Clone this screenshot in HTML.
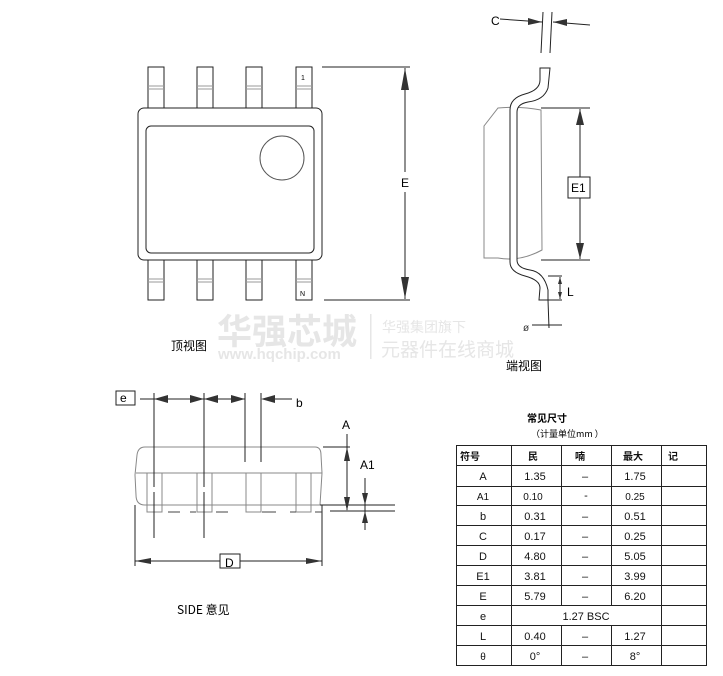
<!DOCTYPE html>
<html><head><meta charset="utf-8"><style>
body{margin:0;background:#fff;}
svg{display:block;font-family:"Liberation Sans","Noto Sans CJK SC",sans-serif;}
</style></head><body>
<svg width="723" height="676" viewBox="0 0 723 676" xmlns="http://www.w3.org/2000/svg">
<defs>
<marker id="ar" viewBox="0 0 10 6" refX="10" refY="3" markerWidth="10" markerHeight="6" orient="auto-start-reverse" markerUnits="userSpaceOnUse"><path d="M0,0L10,3L0,6z" fill="#333"/></marker>
</defs>
<!-- watermark -->
<g fill="#e6e6e6">
<text x="217" y="344" font-size="35" font-weight="bold" font-family="Noto Sans CJK SC,sans-serif">华强芯城</text>
<text x="218" y="359" font-size="15" font-weight="bold">www.hqchip.com</text>
<rect x="370" y="314" width="1.5" height="45"/>
<text x="382" y="332" font-size="14" font-family="Noto Sans CJK SC,sans-serif">华强集团旗下</text>
<text x="381" y="356" font-size="19" font-family="Noto Sans CJK SC,sans-serif">元器件在线商城</text>
</g>
<!-- TOP VIEW -->
<g stroke="#222" stroke-width="1" fill="#fff">
<rect x="148" y="67" width="16" height="41"/><rect x="197" y="67" width="16" height="41"/>
<rect x="246" y="67" width="16" height="41"/><rect x="296" y="67" width="16" height="41"/>
<rect x="148" y="260" width="16" height="40"/><rect x="197" y="260" width="16" height="40"/>
<rect x="246" y="260" width="16" height="40"/><rect x="296" y="260" width="16" height="40"/>
<rect x="138" y="108" width="184" height="152" rx="6"/>
<rect x="146" y="126" width="168" height="127" rx="5"/>
<circle cx="282" cy="158" r="22" stroke="#555"/>
</g>
<g stroke="#999" stroke-width="1">
<path d="M148 86h16M148 89h16M197 86h16M197 89h16M246 86h16M246 89h16M296 86h16M296 89h16"/>
<path d="M148 279h16M148 282h16M197 279h16M197 282h16M246 279h16M246 282h16M296 279h16M296 282h16"/>
</g>
<text x="301" y="80" font-size="7">1</text>
<text x="300" y="296" font-size="7">N</text>
<g stroke="#222" stroke-width="1">
<path d="M322 67H410M324 300H410"/>
<path d="M405 68V172M405 192V299"/>
</g>
<path d="M405 68l-4 22h8z M405 299l-4 -22h8z" fill="#333"/>
<text x="401" y="187" font-size="12">E</text>
<text x="171" y="350" font-size="12" font-family="Noto Sans CJK SC,sans-serif">顶视图</text>
<!-- END VIEW -->
<path d="M498 108 Q520 106 541 110 L542 250 Q520 262 498 258 L484 258 L484 126 L498 108z" fill="#fff" stroke="#888"/>
<path d="M540 68 L550 68 L548 88 Q544 100 528 102 Q517 104 517 112 L517 260 Q517 268 530 270 Q544 272 548 290 L548 300 L539 300 L540 288 Q540 280 525 276 Q510 272 510 262 L510 110 Q510 98 525 94 Q540 90 540 80z" fill="#fff" stroke="#222"/>
<g stroke="#222" stroke-width="1">
<path d="M543 12L541 53M552 12L550 53"/>
<path d="M500 19L542 22M590 25L553 22"/>
<path d="M541 108H590M541 260H590M580 109V177M580 198V259"/>
<path d="M548 276H562M548 300H562M560 277V299"/>
<path d="M548 300L549 328M532 325H562"/>
</g>
<path d="M542 22l-14-4v7z M553 22l14-3v7z" fill="#333"/>
<path d="M580 109l-4 16h8z M580 259l-4-16h8z" fill="#333"/>
<path d="M560 277l-2 7h4z M560 299l-2-7h4z" fill="#333"/>
<rect x="568" y="177" width="22" height="21" fill="#fff" stroke="#222"/>
<text x="571" y="192" font-size="12">E1</text>
<text x="491" y="25" font-size="12">C</text>
<text x="567" y="296" font-size="12">L</text>
<text x="523" y="331" font-size="10" fill="#333">ø</text>
<text x="506" y="370" font-size="12" font-family="Noto Sans CJK SC,sans-serif">端视图</text>
<!-- SIDE VIEW -->
<path d="M145 447 H315 Q321 447 321 455 L322 473 L320 505 H145 Q136 505 136 495 L135 475 L137 455 Q138 447 145 447z" fill="#fff" stroke="#888"/>
<path d="M136 473H322" stroke="#888"/>
<g fill="#fff" stroke="#888">
<rect x="147" y="473" width="15" height="39"/><rect x="197" y="473" width="15" height="39"/>
<rect x="246" y="473" width="15" height="39"/><rect x="296" y="473" width="15" height="39"/>
</g>
<path d="M147 505h15M197 505h15M246 505h15M296 505h15" stroke="#888"/>
<g stroke="#222" stroke-width="1">
<path d="M154 393V487M154 492V538M204 393V487M204 492V538M245 393V462M261 393V462"/>
<path d="M140 399H245M265 399H292"/>
<path d="M323 447H350M330 511H395M320 505H395M347 434V510M365 478V530"/>
<path d="M135 505V566M322 505V566M135 561H220M240 561H322"/>
<path d="M168 512H180M190 512H196M216 512H228M262 512H276M290 512H296M315 512H322" stroke="#444"/>
</g>
<path d="M154 399l14-4v8z M204 399l-14-4v8z M204 399l14-4v8z M245 399l-14-4v8z M261 399l14-4v8z M347 447l-3 14h6z M347 511l-3-14h6z M365 505l-3-12h6z M365 511l-3 12h6z M135 561l16-3v6z M322 561l-16-3v6z" fill="#333"/>
<rect x="116" y="391" width="19" height="14" fill="#fff" stroke="#222"/>
<text x="120" y="402" font-size="12">e</text>
<text x="296" y="407" font-size="12">b</text>
<text x="342" y="429" font-size="12">A</text>
<text x="360" y="469" font-size="12">A1</text>
<rect x="220" y="554" width="20" height="14" fill="#fff" stroke="#222"/>
<text x="225" y="567" font-size="12">D</text>
<text x="177" y="614" font-size="12" font-family="Noto Sans CJK SC,sans-serif">SIDE  意见</text>
<!-- TABLE -->
<text x="527" y="422" font-size="10" font-weight="bold" font-family="Noto Sans CJK SC,sans-serif">常见尺寸</text>
<text x="531" y="437" font-size="9" font-family="Noto Sans CJK SC,sans-serif">（计量单位mm ）</text>
<g stroke="#222" stroke-width="1" fill="none">
<rect x="456.5" y="445.5" width="250" height="220"/>
<path d="M456 465.5H706M456 486.5H706M456 505.5H706M456 525.5H706M456 545.5H706M456 565.5H706M456 585.5H706M456 605.5H706M456 625.5H706M456 645.5H706"/>
<path d="M511.5 445V665M561.5 445V605M561.5 625V665M611.5 445V605M611.5 625V665M661.5 445V665"/>
</g>
<g font-size="11" text-anchor="middle" fill="#111">
<g font-weight="bold" font-size="10" font-family="Noto Sans CJK SC,sans-serif">
<text x="470" y="460">符号</text><text x="533" y="460">民</text><text x="580" y="460">喃</text><text x="633" y="460">最大</text><text x="673" y="460">记</text>
</g>
<text x="483" y="480">A</text><text x="535" y="480">1.35</text><text x="585" y="480">–</text><text x="635" y="480">1.75</text>
<text x="483" y="500" font-size="10">A1</text><text x="533" y="500" font-size="10">0.10</text><text x="586" y="499">-</text><text x="635" y="500" font-size="10">0.25</text>
<text x="483" y="520">b</text><text x="535" y="520">0.31</text><text x="585" y="520">–</text><text x="635" y="520">0.51</text>
<text x="483" y="540">C</text><text x="535" y="540">0.17</text><text x="585" y="540">–</text><text x="635" y="540">0.25</text>
<text x="483" y="560">D</text><text x="535" y="560">4.80</text><text x="585" y="560">–</text><text x="635" y="560">5.05</text>
<text x="483" y="580">E1</text><text x="535" y="580">3.81</text><text x="585" y="580">–</text><text x="635" y="580">3.99</text>
<text x="483" y="600">E</text><text x="535" y="600">5.79</text><text x="585" y="600">–</text><text x="635" y="600">6.20</text>
<text x="483" y="620">e</text><text x="586" y="620">1.27 BSC</text>
<text x="483" y="640">L</text><text x="535" y="640">0.40</text><text x="585" y="640">–</text><text x="635" y="640">1.27</text>
<text x="483" y="660" font-size="10">θ</text><text x="535" y="660">0°</text><text x="585" y="660">–</text><text x="635" y="660">8°</text>
</g>
</svg>
</body></html>
